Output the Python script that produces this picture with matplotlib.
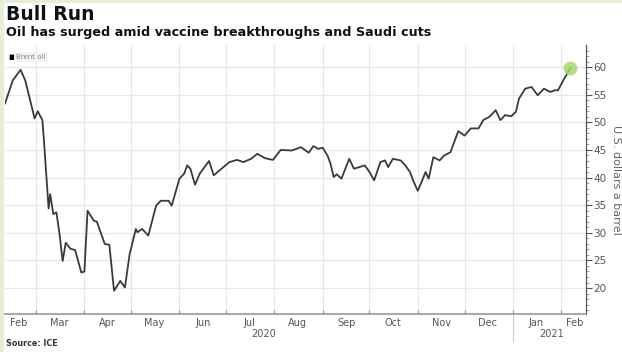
import numpy as np
import pandas as pd
import matplotlib
matplotlib.use("Agg")
import matplotlib.pyplot as plt
import matplotlib.transforms as mtransforms
from matplotlib.patches import Rectangle

"""Data read off the chart (Brent oil, USD a barrel)"""
dates = ["2020-02-10", "2020-02-15", "2020-02-20", "2020-02-23", "2020-02-29",
         "2020-03-02", "2020-03-05", "2020-03-06", "2020-03-09", "2020-03-10",
         "2020-03-12", "2020-03-14", "2020-03-16", "2020-03-18", "2020-03-20",
         "2020-03-23", "2020-03-26", "2020-03-30", "2020-04-01", "2020-04-03",
         "2020-04-07", "2020-04-09", "2020-04-14", "2020-04-17", "2020-04-20",
         "2020-04-24", "2020-04-27", "2020-04-30", "2020-05-04", "2020-05-05",
         "2020-05-08", "2020-05-12", "2020-05-17", "2020-05-20", "2020-05-25",
         "2020-05-27", "2020-06-01", "2020-06-04", "2020-06-06", "2020-06-08",
         "2020-06-11", "2020-06-14", "2020-06-20", "2020-06-23", "2020-06-28",
         "2020-07-03", "2020-07-08", "2020-07-12", "2020-07-17", "2020-07-21",
         "2020-07-26", "2020-07-31", "2020-08-05", "2020-08-12", "2020-08-18",
         "2020-08-23", "2020-08-26", "2020-08-29", "2020-09-01", "2020-09-04",
         "2020-09-06", "2020-09-08", "2020-09-10", "2020-09-13", "2020-09-18",
         "2020-09-21", "2020-09-28", "2020-10-01", "2020-10-04", "2020-10-08",
         "2020-10-11", "2020-10-13", "2020-10-16", "2020-10-21", "2020-10-24",
         "2020-10-27", "2020-10-29", "2020-11-01", "2020-11-03", "2020-11-06",
         "2020-11-08", "2020-11-11", "2020-11-15", "2020-11-18", "2020-11-22",
         "2020-11-27", "2020-12-01", "2020-12-05", "2020-12-10", "2020-12-13",
         "2020-12-17", "2020-12-21", "2020-12-24", "2020-12-27", "2020-12-31",
         "2021-01-03", "2021-01-05", "2021-01-09", "2021-01-13", "2021-01-17",
         "2021-01-21", "2021-01-25", "2021-01-28", "2021-01-30", "2021-02-03",
         "2021-02-07"]
prices = [53.4, 57.6, 59.5, 57.6, 50.7,
          52.0, 50.4, 46.7, 34.4, 37.0,
          33.4, 33.7, 29.8, 24.9, 28.2,
          27.1, 26.9, 22.8, 23.0, 34.0,
          32.2, 32.0, 28.0, 27.8, 19.5,
          21.3, 20.1, 26.1, 30.7, 30.1,
          30.7, 29.5, 34.9, 35.8, 35.8,
          34.9, 39.8, 40.7, 42.2, 41.6,
          38.7, 40.7, 43.0, 40.4, 41.6,
          42.8, 43.2, 42.8, 43.4, 44.3,
          43.5, 43.2, 45.0, 44.9, 45.5,
          44.5, 45.7, 45.2, 45.4, 44.0,
          42.5, 40.1, 40.6, 39.8, 43.4,
          41.6, 42.2, 41.0, 39.5, 42.8,
          43.1, 41.9, 43.4, 43.1, 42.2,
          41.0, 39.5, 37.6, 38.9, 41.0,
          39.8, 43.7, 43.1, 44.0, 44.6,
          48.4, 47.6, 48.9, 48.9, 50.4,
          51.0, 52.2, 50.4, 51.3, 51.1,
          51.9, 54.3, 56.1, 56.4, 54.9,
          56.1, 55.5, 55.8, 55.8, 57.9,
          59.8]

month_starts = ["2020-03-01", "2020-04-01", "2020-05-01", "2020-06-01", "2020-07-01",
                "2020-08-01", "2020-09-01", "2020-10-01", "2020-11-01", "2020-12-01",
                "2021-01-01", "2021-02-01"]
month_label_pos = ["2020-02-19", "2020-03-16", "2020-04-16", "2020-05-16", "2020-06-16",
                   "2020-07-16", "2020-08-16", "2020-09-16", "2020-10-16", "2020-11-16",
                   "2020-12-16", "2021-01-16", "2021-02-10"]
month_labels = ["Feb", "Mar", "Apr", "May", "Jun", "Jul", "Aug", "Sep", "Oct",
                "Nov", "Dec", "Jan", "Feb"]
years = ["2020", "2021"]
year_pos = ["2020-07-25", "2021-01-26"]
y_ticks = [20, 25, 30, 35, 40, 45, 50, 55, 60]

x = pd.to_datetime(dates)
ms = pd.to_datetime(month_starts)

"""Figure"""
fig = plt.figure(figsize=(6.22, 3.52), dpi=100, facecolor="#e4efd8")
# white card with pale green border on the left and top
fig.patches.append(Rectangle((4/622, 0), 1, 1 - 3/352, transform=fig.transFigure,
                             facecolor="white", edgecolor="none", zorder=-5))

ax = fig.add_axes([5/622, 38/352, 581/622, 269/352])
ax.set_facecolor("white")
ax.set_zorder(2)

ax.plot(x, prices, color="#3a3a3a", lw=1.3, zorder=3)
ax.plot(x[-1], prices[-1], "o", ms=10, color="#a6d86e", alpha=0.85, mec="none", zorder=4)

ax.set_xlim(pd.Timestamp("2020-02-10"), pd.Timestamp("2021-02-17"))
ax.set_ylim(15.3, 64)

# y axis on the right
ax.yaxis.tick_right()
ax.yaxis.set_label_position("right")
ax.set_yticks(y_ticks)
ax.set_yticks(np.arange(16, 64, 1), minor=True)
ax.tick_params(axis="y", which="major", direction="out", length=4, width=0.8,
               colors="#555555", labelsize=7.5, pad=1)
ax.tick_params(axis="y", which="minor", direction="out", length=2, width=0.5, colors="#777777")
ax.set_ylabel("U.S. dollars a barrel", rotation=270, labelpad=11, fontsize=8, color="#666666")

# x axis: tick marks at month starts, labels centred in months
ax.set_xticks(ms)
ax.set_xticklabels([])
ax.set_xticks(pd.to_datetime(month_label_pos), minor=True)
ax.set_xticklabels(month_labels, minor=True)
ax.tick_params(axis="x", which="major", direction="in", length=3, width=0.8, colors="#999999")
ax.tick_params(axis="x", which="minor", length=0, labelsize=7, labelcolor="#555555", pad=3)

ax.grid(True, which="major", color="#e8e8e8", lw=0.8, zorder=0)

for s in ["top", "left"]:
    ax.spines[s].set_visible(False)
ax.spines["right"].set_color("#555555")
ax.spines["right"].set_linewidth(0.9)
ax.spines["bottom"].set_color("#999999")
ax.spines["bottom"].set_linewidth(1.2)

# year labels and divider
trans = mtransforms.blended_transform_factory(ax.transData, ax.transAxes)
for yr, pos in zip(years, year_pos):
    ax.text(pd.Timestamp(pos), -0.055, yr, transform=trans, ha="center", va="top",
            fontsize=7, color="#555555")
ax.plot([pd.Timestamp("2021-01-01")] * 2, [0, -0.1], transform=trans, color="#cccccc",
        lw=0.8, clip_on=False)

# legend box
ax.text(0.006, 0.955, "\u25a0", transform=ax.transAxes, fontsize=5, color="black",
        va="center", ha="left")
ax.text(0.019, 0.955, "Brent oil", transform=ax.transAxes, fontsize=5, color="#888888",
        va="center", ha="left",
        bbox=dict(boxstyle="square,pad=0.3", fc="#f2f2f2", ec="none"))

# titles
fig.text(6/622, 1 - 14/352, "Bull Run", fontsize=13.5, fontweight="bold", color="#111111",
         va="center", ha="left")
fig.text(6/622, 1 - 32.5/352, "Oil has surged amid vaccine breakthroughs and Saudi cuts",
         fontsize=9.2, fontweight="bold", color="#111111", va="center", ha="left")
fig.text(6/622, 1 - 344/352, "Source: ICE", fontsize=5.8, fontweight="bold",
         color="#333333", va="center", ha="left")

fig.savefig("out.png", dpi=100, facecolor=fig.get_facecolor())
